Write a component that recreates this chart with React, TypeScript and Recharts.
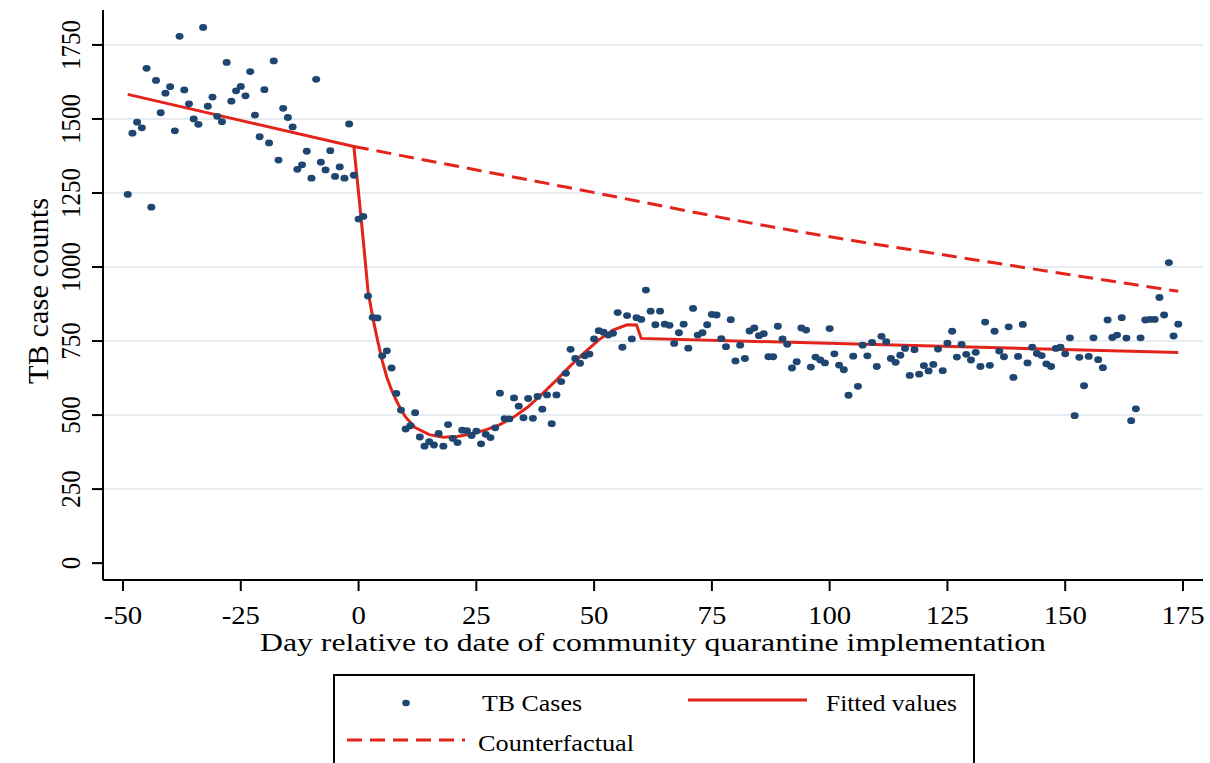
import React from "react";
import {
  ComposedChart,
  Scatter,
  Line,
  XAxis,
  YAxis,
  CartesianGrid,
  Legend,
  Label,
} from "recharts";

const FONT = '"Liberation Serif", "Times New Roman", serif';
const NAVY = "#1f4670";
const RED = "#e3241b";

// daily TB case counts, starting at day -49
const firstDay = -49;
const tbCases = [
  1245, 1452, 1489, 1470, 1671, 1202, 1630, 1521, 1587, 1609,
  1460, 1779, 1598, 1551, 1500, 1482, 1809, 1543, 1574, 1509,
  1491, 1691, 1560, 1595, 1610, 1578, 1660, 1513, 1440, 1599,
  1419, 1696, 1361, 1536, 1505, 1473, 1330, 1345, 1391, 1300,
  1634, 1354, 1328, 1393, 1306, 1338, 1300, 1483, 1310,
  1162, 1171, 902, 830, 828, 700, 717, 659, 573, 517,
  453, 464, 508, 426, 395, 410, 399, 438, 395, 468,
  421, 407, 449, 447, 431, 446, 403, 435, 424, 457,
  574, 488, 487, 558, 530, 491, 556, 489, 563, 520,
  568, 471, 568, 613, 641, 722, 691, 675, 700, 706,
  757, 785, 780, 770, 776, 846, 729, 836, 757, 829,
  823, 922, 851, 805, 851, 807, 803, 742, 778, 807,
  726, 860, 770, 778, 805, 840, 838, 758, 731, 822,
  683, 736, 691, 784, 794, 768, 775, 697, 697, 800,
  757, 739, 659, 680, 794, 787, 662, 696, 686, 676,
  792, 707, 669, 653, 567, 699, 597, 736, 700, 745,
  664, 766, 748, 691, 678, 702, 725, 634, 721, 638,
  667, 649, 671, 723, 650, 743, 783, 696, 739, 705,
  686, 712, 664, 814, 668, 783, 716, 697, 798, 627,
  698, 806, 676, 729, 708, 701, 673, 664, 725, 729,
  707, 761, 498, 695, 599, 698, 761, 687, 660, 821,
  762, 770, 829, 760, 481, 521, 761, 821, 823, 823,
  897, 838, 1015, 767, 807,
];

const fittedDays = [
  -49, -1, 0, 1, 2, 3, 4, 5, 6, 7, 8, 9, 10, 12, 15, 18, 21, 24, 27, 30,
  33, 36, 39, 42, 45, 48, 51, 54, 57, 59, 60, 174,
];
const fittedValues = [
  1583, 1407, 1250, 1090, 920, 830, 755, 685, 628, 585, 550, 518, 493, 458,
  434, 425, 428, 437, 450, 468, 494, 528, 572, 618, 667, 712, 754, 787, 805,
  804, 759, 711,
];

const counterDays = [-1, 44, 89, 131, 174];
const counterValues = [1407, 1270, 1132, 1024, 918];

const xTicks = [-50, -25, 0, 25, 50, 75, 100, 125, 150, 175];
const yTicks = [0, 250, 500, 750, 1000, 1250, 1500, 1750];
const gridLines = [250, 500, 750, 1000, 1250, 1500, 1750];

const tbData = tbCases.map((cases, i) => ({ day: firstDay + i, cases }));
const fittedData = fittedDays.map((day, i) => ({ day, fitted: fittedValues[i] }));
const counterData = counterDays.map((day, i) => ({
  day,
  counterfactual: counterValues[i],
}));

function XTick(props: any) {
  const { x, y, payload } = props;
  return (
    <g transform={`translate(${x},${y + 33})`}>
      <text
        x={0}
        y={0}
        textAnchor="middle"
        transform="scale(1.15,1)"
        fontSize={25}
        fontFamily={FONT}
        fill="#000"
      >
        {payload.value}
      </text>
    </g>
  );
}

function YTick(props: any) {
  const { x, y, payload } = props;
  return (
    <g transform={`translate(${x - 12},${y}) scale(1.12,1) rotate(-90)`}>
      <text x={0} y={0} textAnchor="middle" fontSize={25} fontFamily={FONT} fill="#000">
        {payload.value}
      </text>
    </g>
  );
}

function XTitle(props: any) {
  const { viewBox } = props;
  const cx = viewBox.x + viewBox.width / 2;
  return (
    <text
      x={cx}
      y={651}
      textAnchor="middle"
      fontSize={26}
      fontFamily={FONT}
      fill="#000"
      textLength={786}
      lengthAdjust="spacingAndGlyphs"
    >
      Day relative to date of community quarantine implementation
    </text>
  );
}

function YTitle(props: any) {
  const { viewBox } = props;
  const cy = viewBox.y + viewBox.height / 2;
  return (
    <g transform={`translate(48,${cy - 4}) scale(1.1,1) rotate(-90)`}>
      <text
        x={0}
        y={0}
        textAnchor="middle"
        fontSize={26}
        fontFamily={FONT}
        fill="#000"
        textLength={186}
        lengthAdjust="spacingAndGlyphs"
      >
        TB case counts
      </text>
    </g>
  );
}

function LegendBox() {
  return (
    <div
      style={{
        width: 642,
        height: 100,
        border: "2px solid #000",
        boxSizing: "border-box",
        background: "#fff",
      }}
    >
      <svg width={638} height={96} style={{ display: "block" }}>
        <ellipse cx={71} cy={27} rx={3.8} ry={3.3} fill={NAVY} />
        <text x={147} y={35} fontSize={24} fontFamily={FONT} fill="#000" textLength={100} lengthAdjust="spacingAndGlyphs">
          TB Cases
        </text>
        <line x1={353} y1={24} x2={472} y2={24} stroke={RED} strokeWidth={3} />
        <text x={491} y={35} fontSize={24} fontFamily={FONT} fill="#000" textLength={131} lengthAdjust="spacingAndGlyphs">
          Fitted values
        </text>
        <line x1={12} y1={64} x2={130} y2={64} stroke={RED} strokeWidth={3} strokeDasharray="15 8" />
        <text x={143} y={75} fontSize={24} fontFamily={FONT} fill="#000" textLength={156} lengthAdjust="spacingAndGlyphs">
          Counterfactual
        </text>
      </svg>
    </div>
  );
}

export default function App() {
  return (
    <div
      style={{
        position: "absolute",
        left: 0,
        top: 0,
        width: 1210,
        height: 763,
        overflow: "hidden",
        background: "#fff",
      }}
    >
      <ComposedChart
        width={1210}
        height={763}
        margin={{ top: 10, right: 7, bottom: 103, left: 0 }}
      >
        <CartesianGrid
          vertical={false}
          horizontalValues={gridLines}
          stroke="#e6ecef"
          strokeWidth={2}
        />
        <XAxis
          type="number"
          dataKey="day"
          domain={[-54.25, 179.25]}
          ticks={xTicks}
          interval={0}
          allowDataOverflow
          height={80}
          tickSize={11}
          tickMargin={0}
          axisLine={{ stroke: "#000", strokeWidth: 2 }}
          tickLine={{ stroke: "#000", strokeWidth: 2 }}
          tick={XTick}
        >
          <Label content={XTitle} />
        </XAxis>
        <YAxis
          type="number"
          domain={[-57, 1868]}
          ticks={yTicks}
          interval={0}
          allowDataOverflow
          width={103}
          tickSize={11}
          tickMargin={0}
          axisLine={{ stroke: "#000", strokeWidth: 2 }}
          tickLine={{ stroke: "#000", strokeWidth: 2 }}
          tick={YTick}
        >
          <Label content={YTitle} />
        </YAxis>
        <Scatter
          name="TB Cases"
          data={tbData}
          dataKey="cases"
          isAnimationActive={false}
          shape={(p: any) => <ellipse cx={p.cx} cy={p.cy} rx={4} ry={3.4} fill={NAVY} />}
        />
        <Line
          name="Fitted values"
          data={fittedData}
          dataKey="fitted"
          type="linear"
          stroke={RED}
          strokeWidth={3}
          dot={false}
          activeDot={false}
          isAnimationActive={false}
        />
        <Line
          name="Counterfactual"
          data={counterData}
          dataKey="counterfactual"
          type="monotone"
          stroke={RED}
          strokeWidth={3}
          strokeDasharray="15 8"
          dot={false}
          activeDot={false}
          isAnimationActive={false}
        />
        <Legend
          layout="vertical"
          align="center"
          verticalAlign="middle"
          content={LegendBox}
          wrapperStyle={{ left: 333, top: 674, width: 642, height: 100 }}
        />
      </ComposedChart>
    </div>
  );
}
